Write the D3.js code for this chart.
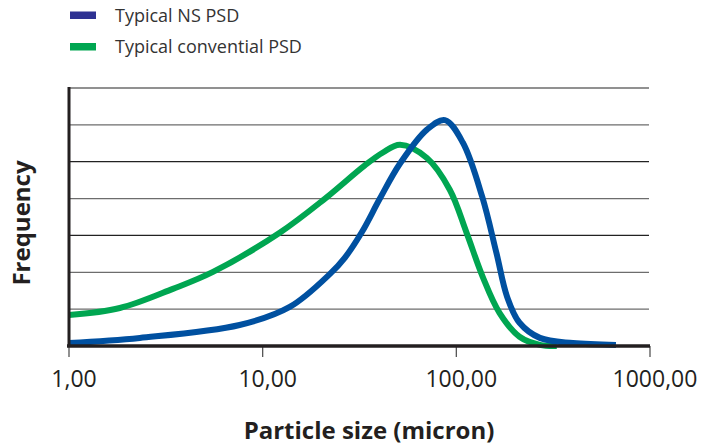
<!DOCTYPE html>
<html>
<head>
<meta charset="utf-8">
<script src="https://cdn.jsdelivr.net/npm/d3@7"></script>
<style>
  body { margin: 0; background: #fff; }
  text { font-family: "Open Sans", "Noto Sans", sans-serif; }
</style>
</head>
<body>
<div id="chart"></div>
<script>
// tick values on the log axis
var xTicks = [1, 10, 100, 1000];
var xTickLabels = ["1,00", "10,00", "100,00", "1000,00"];
var gridLevels = [1, 2, 3, 4, 5, 6, 7];

// particle size (micron) and frequency (in gridline units)
var nsSize = [1, 2.32, 7.6, 13.8, 22.2, 26.6, 32.6, 40.3, 51.2, 70.5, 87.3, 108, 136, 161, 183, 212, 270, 400, 667];
var nsFreq = [0.08, 0.22, 0.57, 1.06, 1.95, 2.4, 3.1, 4.0, 4.95, 5.87, 6.13, 5.52, 4.05, 2.53, 1.33, 0.63, 0.22, 0.08, 0.03];

var convSize = [1, 1.83, 3.44, 5.54, 12.3, 21, 33.7, 41.8, 51.2, 70.5, 92.5, 113, 137, 167, 212, 270, 330];
var convFreq = [0.84, 1.03, 1.55, 2.01, 3.08, 4.0, 4.9, 5.25, 5.46, 5.1, 4.24, 3.07, 1.87, 0.9, 0.25, 0.03, 0];

var seriesNames = ["Typical NS PSD", "Typical convential PSD"];
var legendColors = ["#2e3192", "#00a651"];
var lineColors = ["#0050a0", "#00a651"];

var width = 702, height = 448;

var svg = d3.select("#chart").append("svg")
  .attr("width", width)
  .attr("height", height);

var x = d3.scaleLog().domain([1, 1000]).range([69, 650]);
var y = d3.scaleLinear().domain([0, 7]).range([346, 88]);

// gridlines
svg.append("g")
  .selectAll("line")
  .data(gridLevels)
  .enter()
  .append("line")
  .attr("x1", x(1))
  .attr("x2", x(1000) - 1)
  .attr("y1", function (d) { return y(d); })
  .attr("y2", function (d) { return y(d); })
  .attr("stroke", function (d) { return d == 5 || d == 3 ? "#222" : "#6d6d6d"; })
  .attr("stroke-width", 1.3);

// x axis ticks below baseline
svg.append("g")
  .selectAll("line")
  .data(xTicks)
  .enter()
  .append("line")
  .attr("x1", function (d) { return x(d); })
  .attr("x2", function (d) { return x(d); })
  .attr("y1", y(0))
  .attr("y2", y(0) + 11)
  .attr("stroke", "#555")
  .attr("stroke-width", 1.3);

svg.append("g")
  .selectAll("text")
  .data(xTicks)
  .enter()
  .append("text")
  .attr("x", function (d) { return x(d) + 5; })
  .attr("y", 387)
  .attr("text-anchor", "middle")
  .style("font-size", "23px")
  .style("fill", "#231f20")
  .text(function (d, i) { return xTickLabels[i]; });

// curves
var line = d3.line()
  .x(function (d) { return x(d[0]); })
  .y(function (d) { return y(d[1]); })
  .curve(d3.curveCatmullRom.alpha(0.5));

var convData = convSize.map(function (s, i) { return [s, convFreq[i]]; });
var nsData = nsSize.map(function (s, i) { return [s, nsFreq[i]]; });

svg.append("path")
  .datum(convData)
  .attr("d", line)
  .attr("fill", "none")
  .attr("stroke", lineColors[1])
  .attr("stroke-width", 6);

svg.append("path")
  .datum(nsData)
  .attr("d", line)
  .attr("fill", "none")
  .attr("stroke", lineColors[0])
  .attr("stroke-width", 6);

// axis lines
svg.append("line")
  .attr("x1", x(1)).attr("x2", x(1))
  .attr("y1", y(7) - 1).attr("y2", y(0))
  .attr("stroke", "#231f20")
  .attr("stroke-width", 3);

svg.append("line")
  .attr("x1", x(1) - 2).attr("x2", x(1000))
  .attr("y1", y(0)).attr("y2", y(0))
  .attr("stroke", "#231f20")
  .attr("stroke-width", 3.5);

// axis titles
svg.append("text")
  .attr("x", 369)
  .attr("y", 439)
  .attr("text-anchor", "middle")
  .style("font-size", "24px")
  .style("font-weight", "bold")
  .style("fill", "#231f20")
  .text("Particle size (micron)");

svg.append("text")
  .attr("transform", "translate(30,223) rotate(-90)")
  .attr("text-anchor", "middle")
  .style("font-size", "24px")
  .style("font-weight", "bold")
  .style("fill", "#231f20")
  .text("Frequency");

// legend
var legend = svg.append("g")
  .selectAll("g")
  .data(seriesNames)
  .enter()
  .append("g")
  .attr("transform", function (d, i) { return "translate(70," + (15 + i * 31.5) + ")"; });

legend.append("rect")
  .attr("x", 0)
  .attr("y", -3.5)
  .attr("width", 26)
  .attr("height", 7.5)
  .attr("fill", function (d, i) { return legendColors[i]; });

legend.append("text")
  .attr("x", 45)
  .attr("y", 6.5)
  .style("font-size", "18px")
  .style("fill", "#333")
  .text(function (d) { return d; });
</script>
</body>
</html>
